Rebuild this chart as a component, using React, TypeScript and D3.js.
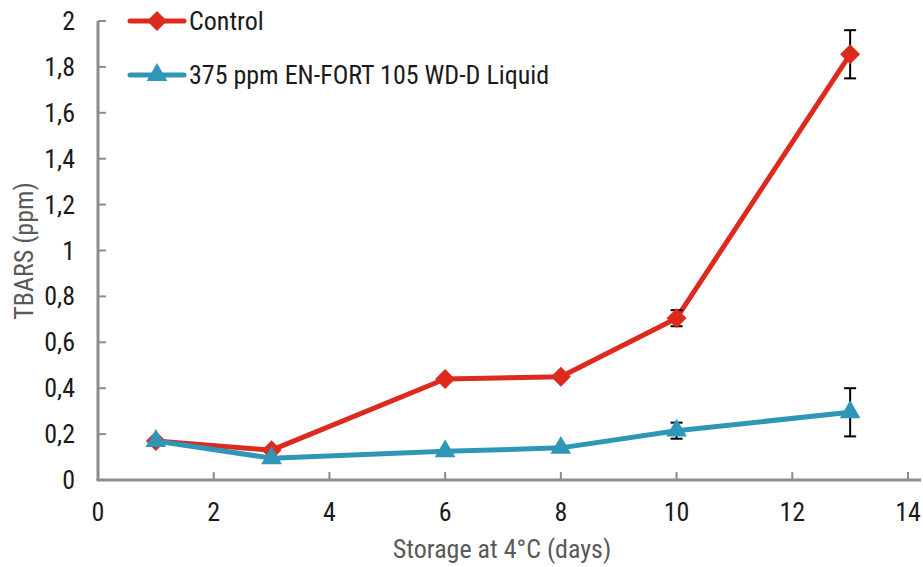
import React, { useEffect, useRef } from 'react';
import * as d3 from 'd3';

const days = [1, 3, 6, 8, 10, 13];
const controlValues = [0.17, 0.13, 0.44, 0.45, 0.705, 1.855];
const controlErrors = [0, 0, 0, 0, 0.035, 0.105];
const liquidValues = [0.17, 0.095, 0.125, 0.14, 0.215, 0.295];
const liquidErrors = [0, 0, 0, 0, 0.035, 0.105];
const xTicks = [0, 2, 4, 6, 8, 10, 12, 14];
const yTicks = [0, 0.2, 0.4, 0.6, 0.8, 1, 1.2, 1.4, 1.6, 1.8, 2];
const seriesNames = ['Control', '375 ppm EN-FORT 105 WD-D Liquid'];

const App = () => {
    const ref = useRef<SVGSVGElement>(null);

    useEffect(() => {
        const svg = d3.select(ref.current);
        svg.selectAll('*').remove();
        const font = '"Roboto Condensed", "Liberation Sans Narrow", "Arial Narrow", sans-serif';
        const fs = 26;
        const fw = 400;

        const x = d3.scaleLinear().domain([0, 14]).range([98, 908]);
        const y = d3.scaleLinear().domain([0, 2]).range([480, 21]);

        const axisColor = '#8c8c8c';

        // y axis
        svg.append('line')
            .attr('x1', x(0)).attr('x2', x(0))
            .attr('y1', y(2)).attr('y2', y(0))
            .attr('stroke', axisColor).attr('stroke-width', 3);
        svg.append('g').selectAll('line').data(yTicks).join('line')
            .attr('x1', x(0)).attr('x2', x(0) + 8)
            .attr('y1', d => y(d)).attr('y2', d => y(d))
            .attr('stroke', axisColor).attr('stroke-width', 2);
        svg.append('g').selectAll('text').data(yTicks).join('text')
            .attr('x', 75).attr('y', d => y(d) + 9)
            .attr('text-anchor', 'end')
            .attr('font-family', font).attr('font-size', fs).attr('font-weight', fw).attr('fill', '#1a1a1a')
            .text(d => String(d).replace('.', ','));

        // x axis
        svg.append('line')
            .attr('x1', x(0) - 1.5).attr('x2', 921)
            .attr('y1', y(0)).attr('y2', y(0))
            .attr('stroke', axisColor).attr('stroke-width', 3);
        svg.append('g').selectAll('line').data(xTicks.slice(1)).join('line')
            .attr('x1', d => x(d)).attr('x2', d => x(d))
            .attr('y1', y(0) - 8).attr('y2', y(0))
            .attr('stroke', axisColor).attr('stroke-width', 2);
        svg.append('g').selectAll('text').data(xTicks).join('text')
            .attr('x', d => x(d)).attr('y', 521)
            .attr('text-anchor', 'middle')
            .attr('font-family', font).attr('font-size', fs).attr('font-weight', fw).attr('fill', '#1a1a1a')
            .text(d => d);

        svg.append('text')
            .attr('x', 502).attr('y', 558)
            .attr('text-anchor', 'middle')
            .attr('font-family', font).attr('font-size', fs).attr('font-weight', fw).attr('fill', '#595959')
            .text('Storage at 4°C (days)');
        svg.append('text')
            .attr('transform', 'translate(33,251) rotate(-90)')
            .attr('text-anchor', 'middle')
            .attr('font-family', font).attr('font-size', fs).attr('font-weight', fw).attr('fill', '#595959')
            .text('TBARS (ppm)');

        // diamond = square rotated 45deg
        const series = [
            { name: seriesNames[0], values: controlValues, errors: controlErrors, color: '#dd2a1f', shape: d3.symbolSquare, size: 200, rot: 45 },
            { name: seriesNames[1], values: liquidValues, errors: liquidErrors, color: '#2e97b8', shape: d3.symbolTriangle, size: 185, rot: 0 },
        ];

        const line = d3.line<number>().x((d, i) => x(days[i])).y(d => y(d));

        series.forEach((s, si) => {
            const g = svg.append('g');
            g.append('path')
                .attr('d', line(s.values))
                .attr('fill', 'none').attr('stroke', s.color).attr('stroke-width', 5)
                .attr('stroke-linejoin', 'round');
            // error bars (under markers)
            const eg = g.append('g');
            s.values.forEach((v, i) => {
                const e = s.errors[i];
                if (!e) return;
                const cx = x(days[i]);
                eg.append('line').attr('x1', cx).attr('x2', cx).attr('y1', y(v + e)).attr('y2', y(v - e))
                    .attr('stroke', '#000').attr('stroke-width', 2);
                [v + e, v - e].forEach(b => {
                    eg.append('line').attr('x1', cx - 6).attr('x2', cx + 6).attr('y1', y(b)).attr('y2', y(b))
                        .attr('stroke', '#000').attr('stroke-width', 2);
                });
            });
            const sym = d3.symbol().type(s.shape).size(s.size);
            g.selectAll('path.m').data(s.values).join('path')
                .attr('class', 'm')
                .attr('transform', (d, i) => `translate(${x(days[i])},${y(d)}) rotate(${s.rot})`)
                .attr('d', sym())
                .attr('fill', s.color);

            // legend
            const ly = 21 + si * 54;
            svg.append('line').attr('x1', 130).attr('x2', 184).attr('y1', ly).attr('y2', ly)
                .attr('stroke', s.color).attr('stroke-width', 5).attr('stroke-linecap', 'round');
            svg.append('path').attr('transform', `translate(157,${ly}) rotate(${s.rot})`).attr('d', sym()).attr('fill', s.color);
            svg.append('text').attr('x', 189).attr('y', ly + 9)
                .attr('font-family', font).attr('font-size', fs).attr('font-weight', fw).attr('fill', '#1a1a1a')
                .text(s.name);
        });
    }, []);

    return (
        <svg ref={ref} width={923} height={567} style={{ position: 'absolute', left: 0, top: 0 }}></svg>
    );
};

export default App;
